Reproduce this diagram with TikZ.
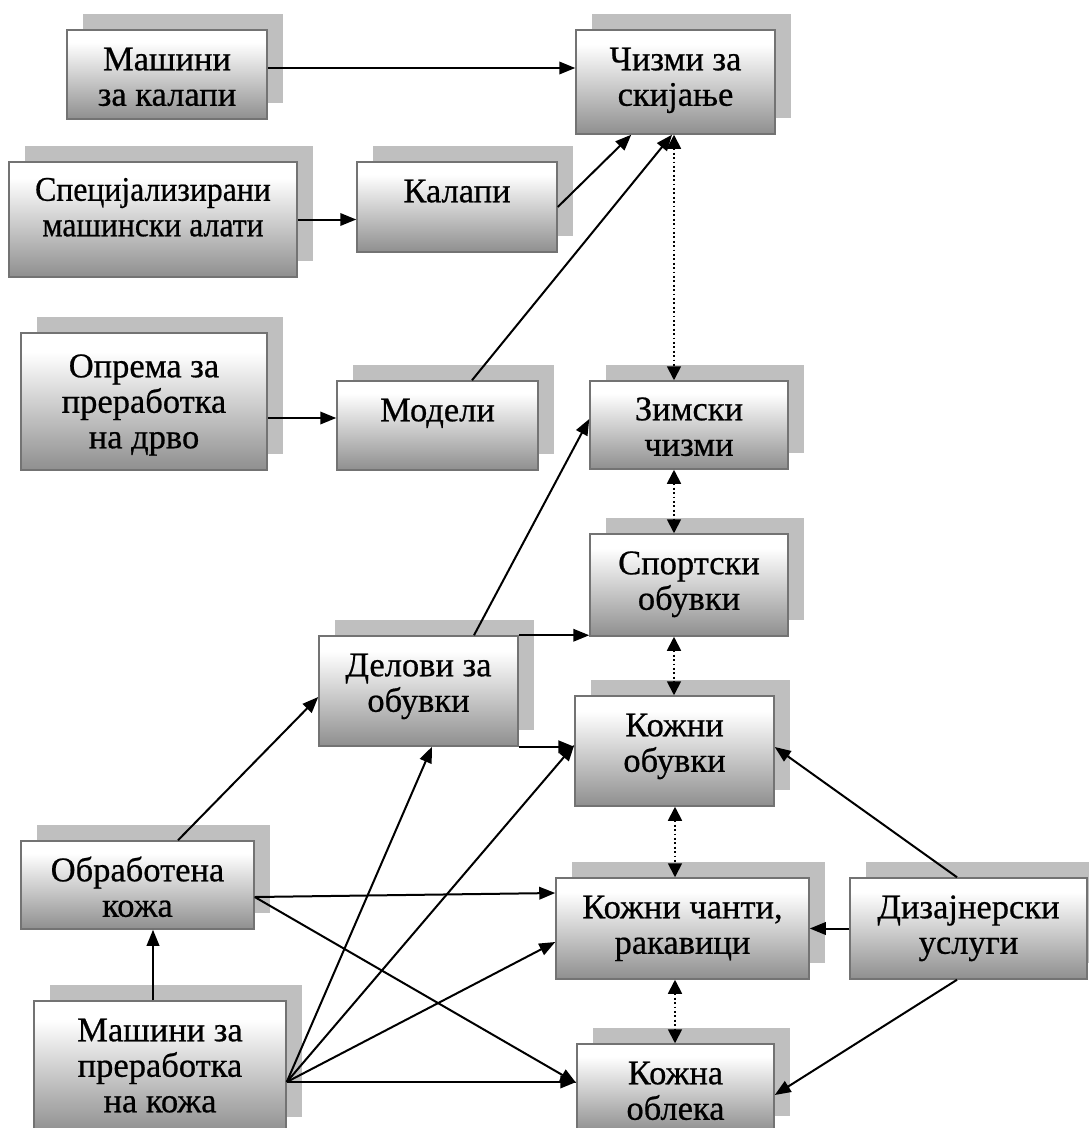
\documentclass[tikz,border=0pt]{standalone}
\usepackage{fontspec}
\setmainfont[FakeBold=0.6]{Liberation Serif}
\usetikzlibrary{arrows.meta,shadows,calc}
\pgfdeclareverticalshading{boxsh}{100bp}{color(0bp)=(black!44); color(25bp)=(black!44); color(68bp)=(white); color(100bp)=(white)}
\begin{document}
\begin{tikzpicture}[x=1pt,y=-1pt,
 box/.style={rectangle, draw=black!55, line width=1.5pt, shading=boxsh, inner sep=0pt,
   drop shadow={shadow xshift=16pt, shadow yshift=16pt, fill=black!25, opacity=1}},
 lbl/.style={font=\fontsize{34.5}{35.5}\selectfont, align=center, inner sep=0pt, anchor=base},
 arr/.style={line width=2pt, -{Triangle[length=16pt,width=12.5pt]}},
 dots/.style={line width=1.8pt, dash pattern=on 1.8pt off 2.6pt,
   {Triangle[length=14pt,width=14pt]}-{Triangle[length=14pt,width=14pt]}}]
\fill[white] (0,0) rectangle (1089,1128);
\useasboundingbox (0,0) rectangle (1089,1128);
% boxes
\node[box, minimum width=200pt, minimum height=89pt]  (A) at (167,74.5) {};
\node[box, minimum width=199pt, minimum height=104pt] (B) at (675.5,82) {};
\node[box, minimum width=288pt, minimum height=115pt] (C) at (153,219.5) {};
\node[box, minimum width=200pt, minimum height=90pt]  (D) at (457,207) {};
\node[box, minimum width=246pt, minimum height=137pt] (E) at (144,401.5) {};
\node[box, minimum width=201pt, minimum height=89pt]  (F) at (437.5,425.5) {};
\node[box, minimum width=198pt, minimum height=88pt]  (G) at (689,425) {};
\node[box, minimum width=198pt, minimum height=102pt] (H) at (689,585) {};
\node[box, minimum width=199pt, minimum height=110pt] (I) at (418.5,691) {};
\node[box, minimum width=199pt, minimum height=110pt] (J) at (674.5,751) {};
\node[box, minimum width=233pt, minimum height=88pt]  (K) at (137.5,885) {};
\node[box, minimum width=253pt, minimum height=101pt] (L) at (682.5,928.5) {};
\node[box, minimum width=237pt, minimum height=101pt] (M) at (968.5,928.5) {};
\node[box, minimum width=252pt, minimum height=132pt] (N) at (160,1067) {};
\node[box, minimum width=197pt, minimum height=88pt]  (O) at (675.5,1088) {};
% labels (base = baseline of the last line)
\node[lbl] (A-t) at ([yshift=-76.5pt]A.north) {Машини\\за калапи};
\node[lbl] (B-t) at ([yshift=-76.5pt]B.north) {Чизми за\\скијање};
\node[lbl] (C-t) at ([yshift=-75pt]C.north) {\scalebox{0.92}[1]{Специјализирани}\\\scalebox{0.92}[1]{машински алати}};
\node[lbl] (D-t) at ([yshift=-41pt]D.north) {Калапи};
\node[lbl] (E-t) at ([yshift=-116pt]E.north) {Опрема за\\преработка\\на дрво};
\node[lbl] (F-t) at ([yshift=-41pt]F.north) {Модели};
\node[lbl] (G-t) at ([yshift=-75.5pt]G.north) {Зимски\\чизми};
\node[lbl] (H-t) at ([yshift=-76.5pt]H.north) {Спортски\\обувки};
\node[lbl] (I-t) at ([yshift=-76.5pt]I.north) {Делови за\\обувки};
\node[lbl] (J-t) at ([yshift=-76.5pt]J.north) {Кожни\\обувки};
\node[lbl] (K-t) at ([yshift=-76.5pt]K.north) {Обработена\\кожа};
\node[lbl] (L-t) at ([yshift=-76.5pt]L.north) {Кожни чанти,\\ракавици};
\node[lbl] (M-t) at ([yshift=-76.5pt]M.north) {Дизајнерски\\услуги};
\node[lbl] (N-t) at ([yshift=-112pt]N.north) {Машини за\\преработка\\на кожа};
\node[lbl] (O-t) at ([yshift=-76.5pt]O.north) {Кожна\\облека};
% connectors
\coordinate (a1) at ([yshift=6.5pt]A.east);
\draw[arr] (a1) -- (a1 -| B.west);
\draw[arr] (C.east) -- (C.east -| D.west);
\draw[arr] (D.east) -- ([xshift=56pt]B.south west);
\coordinate (e1) at ([yshift=-16.5pt]E.east);
\draw[arr] (e1) -- (e1 -| F.west);
\draw[arr] ([xshift=34.5pt]F.north) -- ([xshift=-3.5pt]B.south);
\coordinate (d1) at ([xshift=-1.5pt]B.south);
\draw[dots] (d1) -- (d1 |- G.north);
\coordinate (d2) at (d1 |- G.south);
\draw[dots] (d2) -- (d2 |- H.north);
\coordinate (d3) at (d1 |- H.south);
\draw[dots] (d3) -- (d3 |- J.north);
\coordinate (d4) at ([xshift=0.5pt]J.south);
\draw[dots] (d4) -- (d4 |- L.north);
\coordinate (d5) at (d4 |- L.south);
\draw[dots] (d5) -- (d5 |- O.north);
\draw[arr] ([xshift=55.5pt]I.north) -- ([yshift=6pt]G.west);
\draw[arr] (I.north east) -- (I.north east -| H.west);
\draw[arr] (I.south east) -- (I.south east -| J.west);
\draw[arr] ([xshift=40.5pt]K.north) -- ([yshift=-6pt]I.west);
\coordinate (n1) at ([xshift=-7pt]N.north);
\draw[arr] (n1) -- (n1 |- K.south);
\coordinate (k1) at ([yshift=-12pt]K.east);
\draw[arr] (k1) -- ([yshift=35.5pt]L.west);
\draw[arr] (k1) -- ([yshift=5pt]O.west);
\coordinate (n2) at ([yshift=-15pt]N.east);
\draw[arr] (n2) -- ([xshift=13.5pt]I.south);
\draw[arr] (n2) -- ([yshift=6pt]J.west);
\draw[arr] (n2) -- ([yshift=-13.5pt]L.west);
\draw[arr] (n2) -- (n2 -| O.west);
\draw[arr] (M.west) -- (L.east);
\draw[arr] ([xshift=-11.5pt]M.north) -- ([yshift=4pt]J.east);
\draw[arr] ([xshift=-11.5pt]M.south) -- ([yshift=-7pt]O.east);
\end{tikzpicture}
\end{document}
